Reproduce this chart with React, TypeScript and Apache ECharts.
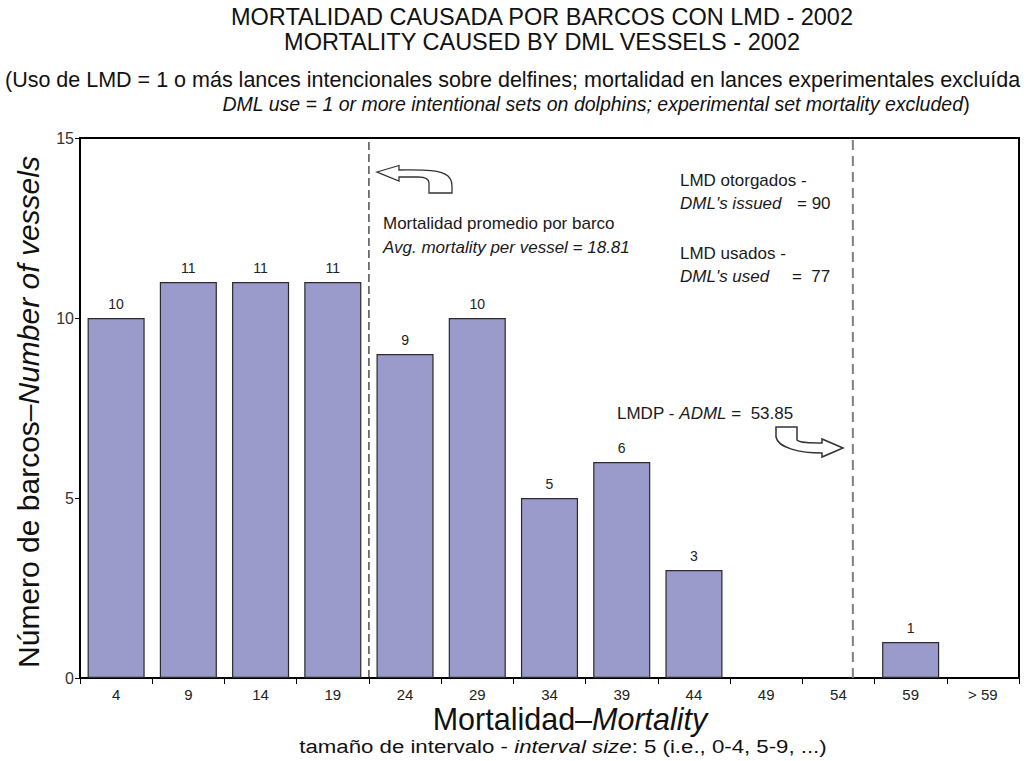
import React, { useEffect, useRef } from "react";
import * as echarts from "echarts";

const categories = ["4", "9", "14", "19", "24", "29", "34", "39", "44", "49", "54", "59", "> 59"];
const vessels = [10, 11, 11, 11, 9, 10, 5, 6, 3, 0, 0, 1, 0];
const yTicks = [0, 5, 10, 15];
// positions of the dashed reference lines in category-slot units (0..13)
const meanLinePos = 4.0;
const admlLinePos = 10.7;

const LEFT_ARROW =
  "M377,172 L399,165.5 L399,170 C420,170 440,169 448,176 C451,179 452,182 452,186 L452,193 L429,193 L429,183 C429,179 425,177 418,177 L399,177 L399,181 Z";
const RIGHT_ARROW =
  "M843,448 L822,439 L822,443 C810,443 800,443 797,440 L797,427 L776,427 L776,437 C778,448 800,453 822,453 L822,457 Z";

echarts.graphic.registerShape("leftArrow", echarts.graphic.extendPath(LEFT_ARROW, {}) as any);
echarts.graphic.registerShape("rightArrow", echarts.graphic.extendPath(RIGHT_ARROW, {}) as any);

const SANS = "'Liberation Sans', Arial, sans-serif";

const txt = (x: number, y: number, text: string, size: number, extra: any = {}) => ({
  type: "text",
  x,
  y,
  ...(extra.node || {}),
  style: {
    text,
    fontFamily: SANS,
    fontSize: size,
    fill: "#1a1a1a",
    align: "left",
    verticalAlign: "middle",
    ...(extra.style || {}),
  },
});

const rich = (size: number, fill = "#1a1a1a") => ({
  n: { fontFamily: SANS, fontSize: size, fill },
  i: { fontFamily: SANS, fontSize: size, fontStyle: "italic", fill },
});

export default function App() {
  const ref = useRef<HTMLDivElement>(null);
  useEffect(() => {
    document.body.style.margin = "0";
    const chart = echarts.init(ref.current!, null, { renderer: "svg" });
    const option: any = {
      animation: false,
      backgroundColor: "#ffffff",
      grid: {
        left: 80,
        top: 138,
        right: 11,
        bottom: 83,
        show: true,
        borderColor: "#000",
        borderWidth: 2,
        containLabel: false,
      },
      xAxis: [
        {
          type: "category",
          data: categories,
          boundaryGap: true,
          axisLine: { lineStyle: { color: "#000", width: 2 } },
          axisTick: { show: true, length: 6, lineStyle: { color: "#000", width: 1 } },
          axisLabel: { color: "#222", fontFamily: SANS, fontSize: 15, margin: 9 },
          splitLine: { show: false },
        },
        {
          type: "value",
          min: 0,
          max: 13,
          show: false,
          position: "bottom",
        },
      ],
      yAxis: {
        type: "value",
        min: 0,
        max: 15,
        interval: 5,
        axisLine: { show: true, lineStyle: { color: "#000", width: 2 } },
        axisTick: { show: true, length: 5, lineStyle: { color: "#000" } },
        axisLabel: { color: "#333", fontFamily: SANS, fontSize: 16, margin: 6 },
        splitLine: { show: false },
      },
      series: [
        {
          type: "bar",
          data: vessels.map((v) => (v === 0 ? null : v)),
          barCategoryGap: "21%",
          itemStyle: { color: "#9b9bcb", borderColor: "#2a2a2a", borderWidth: 1.2 },
          label: {
            show: true,
            position: "top",
            distance: 7,
            color: "#222",
            fontFamily: SANS,
            fontSize: 14,
          },
        },
        {
          type: "line",
          xAxisIndex: 1,
          data: [
            [meanLinePos, 0],
            [meanLinePos, yTicks[yTicks.length - 1]],
          ],
          symbol: "none",
          lineStyle: { color: "#222", width: 1.2, type: [8, 4] },
        },
        {
          type: "line",
          xAxisIndex: 1,
          data: [
            [admlLinePos, 0],
            [admlLinePos, yTicks[yTicks.length - 1]],
          ],
          symbol: "none",
          lineStyle: { color: "#808080", width: 2, type: [10, 6] },
        },
      ],
      graphic: [
        txt(542, 17, "MORTALIDAD CAUSADA POR BARCOS CON LMD - 2002", 23.5, {
          style: { align: "center", fill: "#111" },
        }),
        txt(542, 42, "MORTALITY CAUSED BY DML VESSELS - 2002", 23.5, {
          style: { align: "center", fill: "#111" },
        }),
        txt(
          5,
          80,
          "(Uso de LMD = 1 o más lances intencionales sobre delfines; mortalidad en lances experimentales excluída",
          21.5,
          { style: { fill: "#111" } }
        ),
        {
          type: "text",
          x: 596,
          y: 104,
          style: {
            text: "{i|DML use = 1 or more intentional sets on dolphins; experimental set mortality excluded}{n|)}",
            align: "center",
            verticalAlign: "middle",
            rich: rich(19.5, "#111"),
          },
        },
        {
          type: "text",
          x: 28,
          y: 412,
          rotation: Math.PI / 2,
          style: {
            text: "{n|Número de barcos–}{i|Number of vessels}",
            align: "center",
            verticalAlign: "middle",
            rich: rich(30, "#111"),
          },
        },
        {
          type: "text",
          x: 570,
          y: 719,
          style: {
            text: "{n|Mortalidad–}{i|Mortality}",
            align: "center",
            verticalAlign: "middle",
            rich: rich(30.5, "#111"),
          },
        },
        {
          type: "text",
          x: 563,
          y: 746,
          scaleX: 1.17,
          style: {
            text: "{n|tamaño de intervalo - }{i|interval size}{n|: 5 (i.e., 0-4, 5-9, ...)}",
            align: "center",
            verticalAlign: "middle",
            rich: rich(19, "#111"),
          },
        },
        txt(383, 223, "Mortalidad promedio por barco", 17),
        txt(383, 247, "Avg. mortality per vessel = 18.81", 17, { style: { fontStyle: "italic" } }),
        txt(680, 180, "LMD otorgados -", 17),
        txt(680, 203, "DML's issued", 17, { style: { fontStyle: "italic" } }),
        txt(797, 203, "= 90", 17),
        txt(680, 253, "LMD usados -", 17),
        txt(680, 276, "DML's used", 17, { style: { fontStyle: "italic" } }),
        txt(792, 276, "=  77", 17),
        {
          type: "text",
          x: 617,
          y: 413,
          style: {
            text: "{n|LMDP - }{i|ADML}{n| =  53.85}",
            align: "left",
            verticalAlign: "middle",
            rich: rich(17, "#1a1a1a"),
          },
        },
        {
          type: "leftArrow",
          x: 0,
          y: 0,
          style: { fill: "#fff", stroke: "#333", lineWidth: 1.3 },
          z: 10,
        },
        {
          type: "rightArrow",
          x: 0,
          y: 0,
          style: { fill: "#fff", stroke: "#333", lineWidth: 1.5 },
          z: 10,
        },
      ],
    };
    chart.setOption(option);
    return () => chart.dispose();
  }, []);
  return <div ref={ref} style={{ width: 1030, height: 761 }} />;
}
